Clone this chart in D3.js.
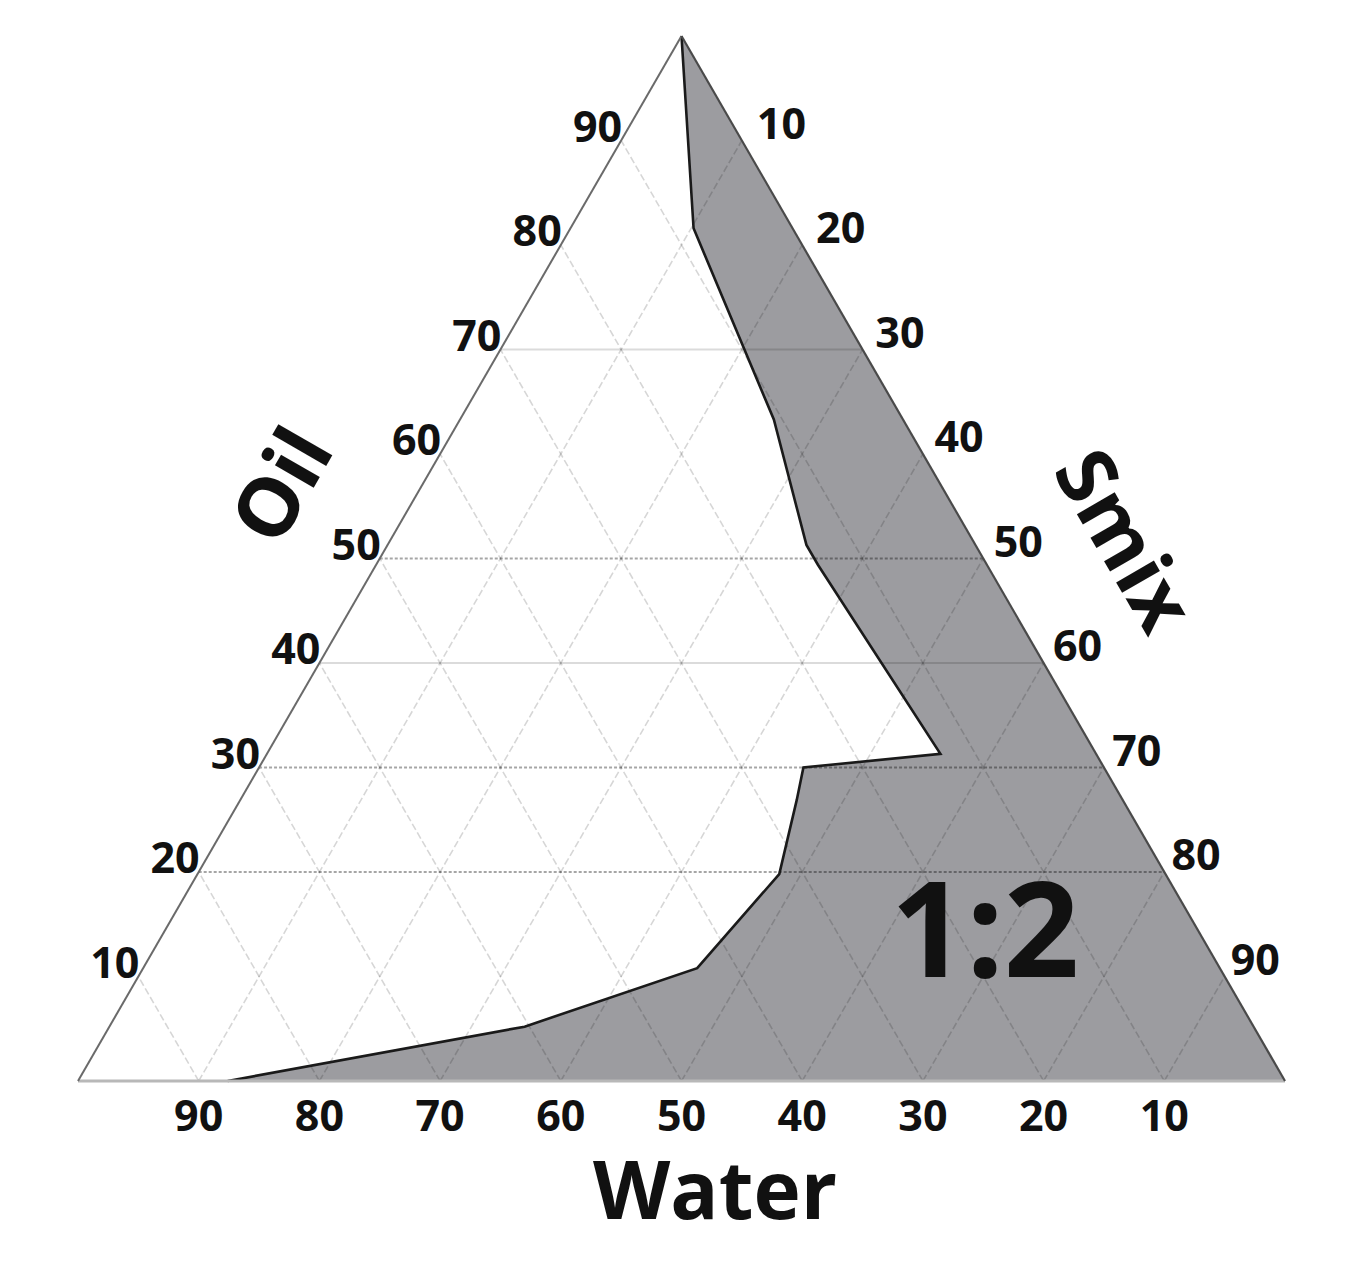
<!DOCTYPE html>
<html>
<head>
<meta charset="utf-8">
<script src="https://cdn.jsdelivr.net/npm/d3@7/dist/d3.min.js"></script>
<style>
  html, body { margin: 0; padding: 0; background: #ffffff; }
  svg { display: block; }
  text { font-family: "Open Sans", "DejaVu Sans", sans-serif; font-weight: 700; fill: #111; }
</style>
</head>
<body>
<svg id="chart" width="1367" height="1261"></svg>
<script>
// ---- data ----
const tickValues = [10, 20, 30, 40, 50, 60, 70, 80, 90];
const oilTickLabels = ["10", "20", "30", "40", "50", "60", "70", "80", "90"];
const smixTickLabels = ["10", "20", "30", "40", "50", "60", "70", "80", "90"];
const waterTickLabels = ["10", "20", "30", "40", "50", "60", "70", "80", "90"];
const gridLevels = [10, 20, 30, 40, 50, 60, 70, 80, 90];
const oilGridDotted = [20, 30, 50];
const oilGridSolid = [40, 70];

// phase boundary of the 1:2 Smix system (percent), from the Oil apex down to the Water axis
const boundaryOil   = [100, 81.6, 63.3, 51.3, 49.4, 31.3, 30.0, 26.9, 19.8, 10.8, 5.2, 0];
const boundaryWater = [0,    8.2, 10.7, 14.0, 14.0, 12.9, 24.9, 27.0, 32.0, 43.3, 60.4, 87.6];
const boundarySmix  = [0,   10.2, 26.0, 34.7, 36.6, 55.8, 45.1, 46.1, 48.2, 45.9, 34.4, 12.4];

const axisTitles = { left: "Oil", right: "Smix", bottom: "Water" };
const ratioLabel = "1:2";

// ---- scales ----
const svg = d3.select("#chart");
const y = d3.scaleLinear().domain([0, 100]).range([1081, 36]);   // Oil
const x = d3.scaleLinear().domain([0, 100]).range([78, 1285]);   // Smix + Oil/2
function P(oil, water, smix) { return [x(smix + oil / 2), y(oil)]; }

// ---- region ----
const boundary = boundaryOil.map((o, i) => P(o, boundaryWater[i], boundarySmix[i]));
const region = boundary.concat([P(0, 0, 100)]);
svg.append("path")
  .attr("d", d3.line()(region) + "Z")
  .attr("fill", "#9c9ca0")
  .attr("stroke", "none");

// ---- grid ----
const grid = svg.append("g");
const line = d3.line();
// lines parallel to the left edge (Smix constant)
gridLevels.forEach(s => {
  grid.append("path").attr("d", line([P(0, 100 - s, s), P(100 - s, 0, s)]))
    .attr("stroke", "rgba(0,0,0,0.16)").attr("stroke-width", 1.6)
    .attr("stroke-dasharray", "7,3").attr("fill", "none");
});
// lines parallel to the right edge (Water constant)
gridLevels.forEach(w => {
  grid.append("path").attr("d", line([P(0, w, 100 - w), P(100 - w, w, 0)]))
    .attr("stroke", "rgba(0,0,0,0.16)").attr("stroke-width", 1.6)
    .attr("stroke-dasharray", "7,3").attr("fill", "none");
});
// horizontal Oil lines
oilGridSolid.forEach(o => {
  grid.append("path").attr("d", line([P(o, 100 - o, 0), P(o, 0, 100 - o)]))
    .attr("stroke", "rgba(0,0,0,0.14)").attr("stroke-width", 2).attr("fill", "none");
});
oilGridDotted.forEach(o => {
  grid.append("path").attr("d", line([P(o, 100 - o, 0), P(o, 0, 100 - o)]))
    .attr("stroke", "rgba(0,0,0,0.35)").attr("stroke-width", 2.2)
    .attr("stroke-dasharray", "3,2").attr("fill", "none");
});

// ---- boundary line ----
svg.append("path")
  .attr("d", line(boundary))
  .attr("fill", "none").attr("stroke", "#1a1a1a").attr("stroke-width", 2.6)
  .attr("stroke-linejoin", "miter");

// ---- triangle edges ----
const A = P(100, 0, 0), L = P(0, 100, 0), R = P(0, 0, 100);
svg.append("path").attr("d", line([L, R])).attr("stroke", "#b8b8b8").attr("stroke-width", 3).attr("fill", "none");
svg.append("path").attr("d", line([L, A])).attr("stroke", "#6a6a6a").attr("stroke-width", 2).attr("fill", "none");
svg.append("path").attr("d", line([A, R])).attr("stroke", "#4a4a4a").attr("stroke-width", 2.2).attr("fill", "none");

// ---- tick labels ----
const fs = 43;
tickValues.forEach((v, i) => {
  const p = P(v, 100 - v, 0);
  svg.append("text").attr("x", p[0] + 1).attr("y", p[1] + 1)
    .attr("text-anchor", "end").attr("font-size", fs).text(oilTickLabels[i]);
});
tickValues.forEach((v, i) => {
  const p = P(100 - v, 0, v);
  const off = 15 - 9 * (v - 10) / 80;
  svg.append("text").attr("x", p[0] + off).attr("y", p[1] - 2)
    .attr("text-anchor", "start").attr("font-size", fs).text(smixTickLabels[i]);
});
tickValues.forEach((v, i) => {
  const p = P(0, v, 100 - v);
  svg.append("text").attr("x", p[0]).attr("y", 1131)
    .attr("text-anchor", "middle").attr("font-size", fs).text(waterTickLabels[i]);
});

// ---- axis titles ----
svg.append("text").attr("transform", "translate(281,485) rotate(-60)")
  .attr("text-anchor", "middle").attr("dy", "0.36em").attr("font-size", 82).text(axisTitles.left);
svg.append("text").attr("transform", "translate(1125,540) rotate(60)")
  .attr("text-anchor", "middle").attr("dy", "0.36em").attr("font-size", 80).text(axisTitles.right);
svg.append("text").attr("x", 715).attr("y", 1219)
  .attr("text-anchor", "middle").attr("font-size", 80).text(axisTitles.bottom);
svg.append("text").attr("x", 985).attr("y", 977)
  .attr("text-anchor", "middle").attr("font-size", 132).attr("fill", "#0a0a0a").text(ratioLabel);
</script>
</body>
</html>
